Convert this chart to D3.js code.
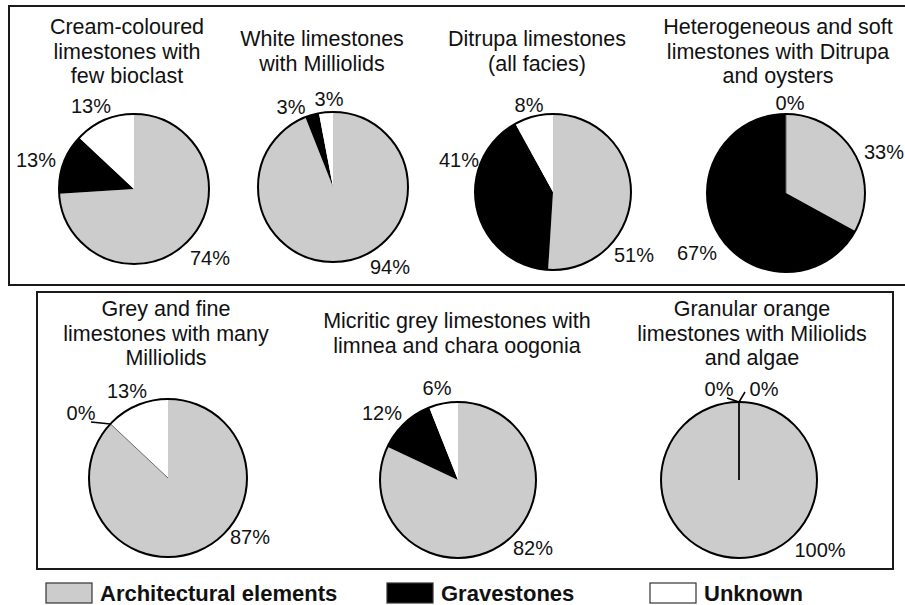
<!DOCTYPE html>
<html>
<head>
<meta charset="utf-8">
<script src="https://cdn.jsdelivr.net/npm/d3@7/dist/d3.min.js"></script>
<style>
  html, body { margin: 0; padding: 0; background: #fff; }
  svg { display: block; font-family: "Liberation Sans", Arial, sans-serif; }
</style>
</head>
<body>
<svg id="chart" width="905" height="605"></svg>
<script>
// ---------- DATA ----------
const categories = ["Architectural elements", "Gravestones", "Unknown"];
const titles = [
  ["Cream-coloured", "limestones with", "few bioclast"],
  ["White limestones", "with Milliolids"],
  ["Ditrupa limestones", "(all facies)"],
  ["Heterogeneous and soft", "limestones with Ditrupa", "and oysters"],
  ["Grey and fine", "limestones with many", "Milliolids"],
  ["Micritic grey limestones with", "limnea and chara oogonia"],
  ["Granular orange", "limestones with Miliolids", "and algae"]
];
const architectural = [74, 94, 51, 33, 87, 82, 100];
const gravestones   = [13, 3, 41, 67, 0, 12, 0];
const unknown       = [13, 3, 8, 0, 13, 6, 0];

// ---------- LAYOUT ----------
const colors = ["#cccccc", "#000000", "#ffffff"];
const pieLayout = [
  {cx: 134, cy: 189, r: 75, tx: 127, ty: 34},
  {cx: 333, cy: 187, r: 75, tx: 322, ty: 46},
  {cx: 553, cy: 192, r: 78, tx: 537, ty: 46},
  {cx: 786, cy: 193, r: 79, tx: 778, ty: 34},
  {cx: 168, cy: 478, r: 79, tx: 166, ty: 316},
  {cx: 458, cy: 480, r: 78, tx: 457, ty: 328},
  {cx: 739, cy: 480, r: 78, tx: 752, ty: 316}
];
// label offsets from pie centre, per category [arch, grav, unknown]
const labelOffsets = [
  [[76, 69], [-98, -29], [-43, -83]],
  [[57, 80], [-42, -80], [-4, -88]],
  [[81, 63], [-94, -32], [-24, -87]],
  [[98, -41], [-89, 60], [4, -90]],
  [[82, 59], [-87, -65], [-41, -87]],
  [[75, 68], [-76, -67], [-21, -92]],
  [[81, 70], [-20, -91], [25, -91]]
];
// leader line start for zero-value labels (offset from label centre)
const leaderStart = {
  "4-1": [10, 9],
  "6-1": [8, 9],
  "6-2": [-19, 3]
};

const svg = d3.select("#chart");

// boxes
svg.append("rect").attr("x", 9).attr("y", 6).attr("width", 905).attr("height", 279)
  .attr("fill", "none").attr("stroke", "#1a1a1a").attr("stroke-width", 2);
svg.append("rect").attr("x", 37).attr("y", 292).attr("width", 856).attr("height", 277)
  .attr("fill", "none").attr("stroke", "#1a1a1a").attr("stroke-width", 2);

const pie = d3.pie().sort(null).value(d => d);

pieLayout.forEach((L, i) => {
  const vals = [architectural[i], gravestones[i], unknown[i]];
  const arcs = pie(vals);
  const arc = d3.arc().innerRadius(0).outerRadius(L.r);
  const g = svg.append("g").attr("transform", `translate(${L.cx},${L.cy})`);

  g.selectAll("path.slice").data(arcs.filter(a => a.value > 0)).join("path")
    .attr("class", "slice")
    .attr("d", arc)
    .attr("fill", (d) => colors[d.index])
    .attr("stroke", "none");

  // zero-value slices drawn as radial lines
  arcs.filter(a => a.value === 0).forEach(a => {
    const ang = a.startAngle;
    g.append("line")
      .attr("x1", 0).attr("y1", 0)
      .attr("x2", L.r * Math.sin(ang)).attr("y2", -L.r * Math.cos(ang))
      .attr("stroke", i === 6 ? "#111" : "#666").attr("stroke-width", i === 6 ? 1.5 : 1);
  });

  // outline
  g.append("circle").attr("r", L.r).attr("fill", "none")
    .attr("stroke", "#000").attr("stroke-width", 2);

  // labels
  arcs.forEach(a => {
    const off = labelOffsets[i][a.index];
    if (a.value === 0) {
      const s = leaderStart[`${i}-${a.index}`];
      if (s) {
        const ang = a.startAngle;
        g.append("line")
          .attr("x1", off[0] + s[0]).attr("y1", off[1] + s[1])
          .attr("x2", L.r * Math.sin(ang)).attr("y2", -L.r * Math.cos(ang))
          .attr("stroke", "#000").attr("stroke-width", 1.5);
      }
    }
    g.append("text")
      .attr("x", off[0]).attr("y", off[1])
      .attr("dy", "0.36em")
      .attr("text-anchor", "middle")
      .attr("font-size", 20)
      .attr("fill", "#111")
      .text(a.value + "%");
  });

  // title
  const t = svg.append("text").attr("text-anchor", "middle")
    .attr("font-size", 21.5).attr("fill", "#111");
  titles[i].forEach((line, k) => {
    t.append("tspan").attr("x", L.tx).attr("y", L.ty + k * 24.5).text(line);
  });
});

// legend
const legendX = [46, 387, 650];
const lg = svg.append("g");
categories.forEach((c, k) => {
  lg.append("rect").attr("x", legendX[k]).attr("y", 583).attr("width", 46).attr("height", 20)
    .attr("fill", colors[k]).attr("stroke", "#333").attr("stroke-width", 1.2);
  lg.append("text").attr("x", legendX[k] + 54).attr("y", 601)
    .attr("font-size", 22).attr("font-weight", "bold").attr("fill", "#111").text(c);
});
</script>
</body>
</html>
